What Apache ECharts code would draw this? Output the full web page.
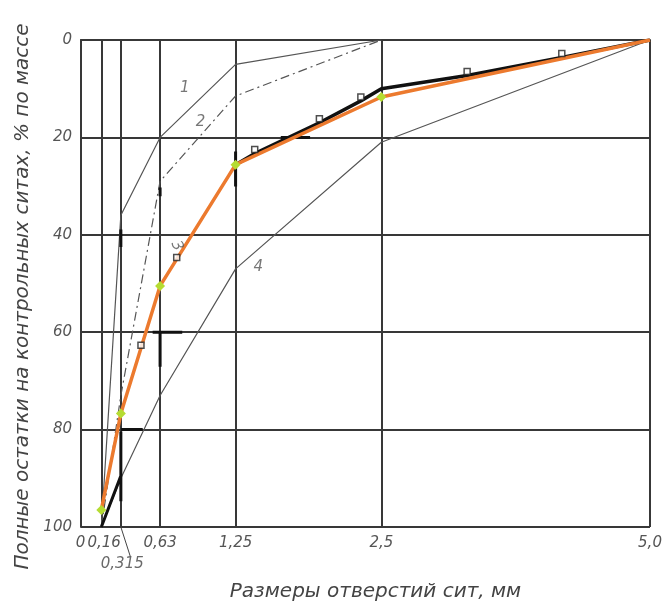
<!DOCTYPE html>
<html>
<head>
<meta charset="utf-8">
<script src="https://cdn.jsdelivr.net/npm/echarts@6/dist/echarts.min.js"></script>
<style>
  html, body { margin: 0; padding: 0; background: #fff; }
  #chart { width: 667px; height: 607px; }
</style>
</head>
<body>
<div id="chart"></div>
<script>
// размеры отверстий сит, мм
const sieves = [0.16, 0.315, 0.63, 1.25, 2.5, 5.0]
const tickValues = [0, 0.16, 0.315, 0.63, 1.25, 2.5, 5.0]
const tickLabels = ['0', '0,16', '0,315', '0,63', '1,25', '2,5', '5,0']

// полные остатки, % (кривые 1..4)
const curve1 = [100, 36, 20, 5, 0, null]
const curve2 = [100, 73, 29, 11.5, 0, null]
const curve3 = [96.5, 76.7, 50.5, 25.6, 11.7, 0]
const curve4 = [100, 90, 73, 47, 21, 0]

// опытная кривая (чёрная) и точки-квадраты
const expX = [1.25, 1.41, 1.96, 2.32, 2.5, 3.27, 4.15, 5.0]
const expY = [25.6, 23.3, 17, 12.5, 10, 7.3, 3.6, 0]
const sqX = [0.476, 0.765, 1.41, 1.96, 2.32, 3.27, 4.15]
const sqY = [63.5, 45.5, 23.3, 17, 12.5, 7.3, 3.6]

// короткие жирные отрезки (границы зоны)
const zoneSegs = [
  [[0.315, 80.4], [0.315, 94.7]],
  [[0.315, 80], [0.49, 80]],
  [[0.315, 38.9], [0.315, 42.5]],
  [[0.63, 60.3], [0.63, 67.1]],
  [[0.57, 60], [0.81, 60]],
  [[0.63, 30.3], [0.63, 32.1]],
  [[1.25, 22.9], [1.25, 30.1]],
  [[1.63, 20], [1.88, 20]],
  [[0.16, 100], [0.315, 89.5]]
]

// номера кривых
const curveNames = ['1', '2', '3', '4']
const nameX = [0.83, 0.96, 0.765, 1.44]
const nameY = [9.8, 16.8, 42.3, 46.6]

// шкала x слегка растянута в начале, как на чертеже
const C = 20
const tx = v => Math.log((v + C) / C)

const font = 'DejaVu Sans'
const gridColor = '#383838'

function pairs (xs, ys) {
  return xs.map((x, i) => (ys[i] == null ? [tx(x), '-'] : [tx(x), ys[i]]))
}

function segData () {
  const out = []
  zoneSegs.forEach(seg => {
    out.push([tx(seg[0][0]), seg[0][1]])
    out.push([tx(seg[1][0]), seg[1][1]])
    out.push([tx(seg[1][0]), '-'])
  })
  return out
}

function labelFor (val) {
  let best = 0
  tickValues.forEach((t, i) => {
    if (Math.abs(tx(t) - val) < Math.abs(tx(tickValues[best]) - val)) best = i
  })
  const txt = tickLabels[best]
  // "0" стоит вплотную к "0,16" — выводим их одной подписью
  if (txt === '0,16') return '{z|' + tickLabels[0] + '}{n|' + txt + '}'
  return txt
}

const chart = echarts.init(document.getElementById('chart'), null, { renderer: 'canvas' })

const labelStyle = { fontFamily: font, fontStyle: 'italic', fontSize: 15, color: '#555' }
const leader = [[0.315, 100], [0.39, 106]]

const option = {
  animation: false,
  backgroundColor: '#fff',
  grid: { left: 81, right: 17, top: 40, bottom: 78, containLabel: false },
  xAxis: {
    type: 'value',
    min: 0,
    max: tx(5),
    name: 'Размеры отверстий сит, мм',
    nameLocation: 'middle',
    nameGap: 55,
    nameTextStyle: { fontFamily: font, fontStyle: 'italic', fontSize: 20, color: '#444', padding: [0, 0, 0, 20] },
    axisLine: { show: true, lineStyle: { color: gridColor, width: 2 } },
    axisTick: { show: false, customValues: tickValues.map(tx) },
    axisLabel: Object.assign({}, labelStyle, {
      // 0,315 подписана отдельно, ниже, с выноской
      customValues: tickValues.filter(t => t !== 0 && t !== 0.315).map(tx),
      showMinLabel: true,
      showMaxLabel: true,
      hideOverlap: false,
      margin: 6,
      lineHeight: 20,
      formatter: labelFor,
      rich: {
        z: Object.assign({}, labelStyle, { padding: [0, 2, 0, 0] }),
        n: Object.assign({}, labelStyle, { padding: [0, 6, 0, 0] })
      }
    }),
    splitLine: { show: true, lineStyle: { color: gridColor, width: 2 } }
  },
  yAxis: {
    type: 'value',
    inverse: true,
    min: 0,
    max: 100,
    interval: 20,
    name: 'Полные остатки на контрольных ситах, % по массе',
    nameLocation: 'middle',
    nameGap: 45,
    nameTextStyle: { fontFamily: font, fontStyle: 'italic', fontSize: 20, color: '#444', padding: [0, 26, 0, 0] },
    axisLine: { show: true, lineStyle: { color: gridColor, width: 2 } },
    axisTick: { show: false },
    axisLabel: Object.assign({}, labelStyle, { margin: 9 }),
    splitLine: { show: true, lineStyle: { color: gridColor, width: 2 } }
  },
  series: [
    {
      type: 'line',
      data: pairs(sieves, curve1),
      symbol: 'none',
      lineStyle: { color: '#555', width: 1.2 },
      z: 3
    },
    {
      type: 'line',
      data: pairs(sieves, curve2),
      symbol: 'none',
      lineStyle: { color: '#555', width: 1.2, type: [9, 4, 2, 4] },
      z: 3
    },
    {
      type: 'line',
      data: pairs(sieves, curve4),
      symbol: 'none',
      lineStyle: { color: '#555', width: 1.2 },
      z: 3
    },
    {
      type: 'line',
      data: pairs(expX, expY),
      symbol: 'none',
      lineStyle: { color: '#111', width: 3.5 },
      z: 4
    },
    {
      type: 'line',
      data: segData(),
      symbol: 'none',
      connectNulls: false,
      lineStyle: { color: '#111', width: 3 },
      z: 4
    },
    {
      // выноска к подписи 0,315
      type: 'line',
      data: leader.map(p => [tx(p[0]), p[1]]),
      symbol: 'none',
      clip: false,
      lineStyle: { color: '#444', width: 1 },
      z: 4
    },
    {
      type: 'scatter',
      data: [[tx(leader[1][0]), leader[1][1]]],
      symbolSize: 0,
      clip: false,
      label: Object.assign({}, labelStyle, {
        show: true,
        position: 'bottom',
        distance: 0,
        offset: [-8, 0],
        color: '#444',
        formatter: tickLabels[2]
      }),
      z: 4
    },
    {
      type: 'line',
      data: pairs(sieves, curve3).map((d, i) => (i === sieves.length - 1 ? { value: d, symbol: 'none' } : d)),
      symbol: 'diamond',
      symbolSize: 10,
      showAllSymbol: true,
      itemStyle: { color: '#b5dc32', borderWidth: 0 },
      lineStyle: { color: '#ec7a2e', width: 3.5 },
      z: 5
    },
    {
      type: 'scatter',
      data: pairs(sqX, sqY),
      symbol: 'rect',
      symbolSize: [6, 6],
      symbolOffset: [0, -4],
      itemStyle: { color: '#fff', borderColor: '#222', borderWidth: 1.5 },
      z: 6
    },
    {
      type: 'scatter',
      data: nameX.map((x, i) => ({
        value: [tx(x), nameY[i]],
        name: curveNames[i],
        label: curveNames[i] === '3' ? { rotate: -65 } : {}
      })),
      symbolSize: 0,
      label: Object.assign({}, labelStyle, {
        show: true,
        position: 'inside',
        formatter: p => p.name
      }),
      z: 6
    }
  ]
}

chart.setOption(option)
</script>
</body>
</html>
